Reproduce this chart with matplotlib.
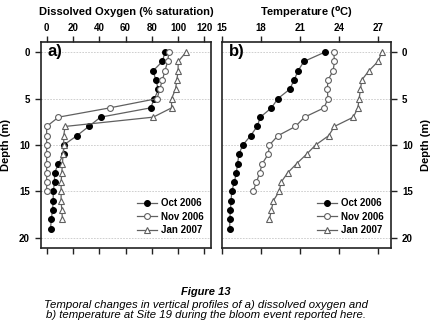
#! /usr/bin/env python3
import numpy as np
import matplotlib
matplotlib.use('Agg')
import matplotlib.pyplot as plt

plt.rcParams['font.family'] = ['Liberation Sans', 'DejaVu Sans']

series_names = ['Oct 2006', 'Nov 2006', 'Jan 2007']

# dissolved oxygen (% saturation), one value per metre from the surface
do_oct = [90, 88, 81, 83, 85, 82, 79, 41, 32, 23, 13, 13, 9, 6, 6, 5, 5, 4.5, 3.5, 3]
do_nov = [93, 92, 90, 88, 86, 84, 48, 9, 0, 0, 0, 0, 0, 0, 0, 0]
do_jan = [106, 100, 100, 99, 98, 95, 95, 81, 14, 13, 13, 12.5, 12, 11.5, 11, 11,
          11, 11.5, 12]

# temperature (deg C)
t_oct = [22.9, 21.3, 20.85, 20.55, 20.2, 19.3, 18.8, 17.95, 17.7, 17.2, 16.6,
         16.3, 16.2, 16.1, 15.95, 15.75, 15.7, 15.65, 15.6, 15.6]
t_nov = [23.6, 23.65, 23.55, 23.15, 23.1, 23.15, 22.85, 21.35, 20.65, 19.3,
         18.65, 18.55, 18.1, 17.9, 17.65, 17.4]
t_jan = [27.3, 27.0, 26.3, 25.75, 25.65, 25.55, 25.45, 25.1, 23.65, 23.2, 22.2,
         21.5, 20.75, 20.05, 19.55, 19.4, 18.95, 18.8, 18.65]

do_ticks = [0, 20, 40, 60, 80, 100, 120]
t_ticks = [15, 18, 21, 24, 27]
depth_ticks = [0, 5, 10, 15, 20]

line_col = '#606060'
styles = [dict(marker='o', mfc='black', mec='black'),
          dict(marker='o', mfc='white', mec='#606060'),
          dict(marker='^', mfc='white', mec='#606060')]

fig = plt.figure(figsize=(4.37, 3.28), dpi=100)
ax1 = fig.add_axes([41/437, 1-248/328, 170/437, 206/328])
ax2 = fig.add_axes([222/437, 1-248/328, 169/437, 206/328])


def draw(ax, data, xlim, xticks, title, label, side):
    for vals, st, name in zip(data, styles, series_names):
        d = np.arange(len(vals))
        ax.plot(vals, d, color=line_col, lw=0.9, ms=4.2, mew=0.8,
                label=name, **st)
    for g in depth_ticks:
        ax.axhline(g, color='#c8c8c8', lw=0.6, ls=(0, (2, 1.5)), zorder=0)
    ax.set_xlim(xlim)
    ax.set_ylim(21.1, -1.1)
    ax.set_xticks(xticks)
    ax.set_yticks(depth_ticks)
    ax.tick_params(axis='x', top=True, bottom=True, labeltop=True,
                   labelbottom=False, direction='out', length=4, width=1,
                   labelsize=7, pad=2.5, color='#222222')
    ax.tick_params(axis='y', left=(side == 'left'), right=(side == 'right'),
                   labelleft=(side == 'left'), labelright=(side == 'right'),
                   direction='out', length=4, width=1, labelsize=7, pad=4,
                   color='#222222')
    for t in ax.get_xticklabels() + ax.get_yticklabels():
        t.set_fontweight('bold')
    for s in ax.spines.values():
        s.set_linewidth(1.2)
        s.set_color('#222222')
    bb = ax.get_position()
    fig.text((bb.x0 + bb.x1) / 2, 1 - 12/328, title, ha='center',
             va='center', fontsize=8, fontweight='bold')
    ax.set_ylabel('Depth (m)', fontsize=8, fontweight='bold', labelpad=6)
    if side == 'right':
        ax.yaxis.set_label_position('right')
    ax.text(0.04, 0.99, label, transform=ax.transAxes, fontsize=12,
            fontweight='bold', va='top', ha='left')
    leg = ax.legend(loc='lower right', bbox_to_anchor=(1.0, 0.03),
                    frameon=False, fontsize=7, handlelength=2.0,
                    handletextpad=0.5, labelspacing=0.35, borderaxespad=0.3)
    for t in leg.get_texts():
        t.set_fontweight('bold')


draw(ax1, [do_oct, do_nov, do_jan], (-4.3, 125), do_ticks,
     'Dissolved Oxygen (% saturation)', 'a)', 'left')
draw(ax2, [t_oct, t_nov, t_jan], (15, 28), t_ticks,
     'Temperature ($^{\\mathbf{o}}$C)', 'b)', 'right')

fig.text(206/437, 1-292/328, 'Figure 13', ha='center', va='center',
         fontsize=8, fontweight='bold', style='italic')
fig.text(206/437, 1-310/328,
         'Temporal changes in vertical profiles of a) dissolved oxygen and\n'
         'b) temperature at Site 19 during the bloom event reported here.',
         ha='center', va='center', fontsize=8.2, style='italic',
         linespacing=1.05)

fig.savefig('out.png', dpi=100)
